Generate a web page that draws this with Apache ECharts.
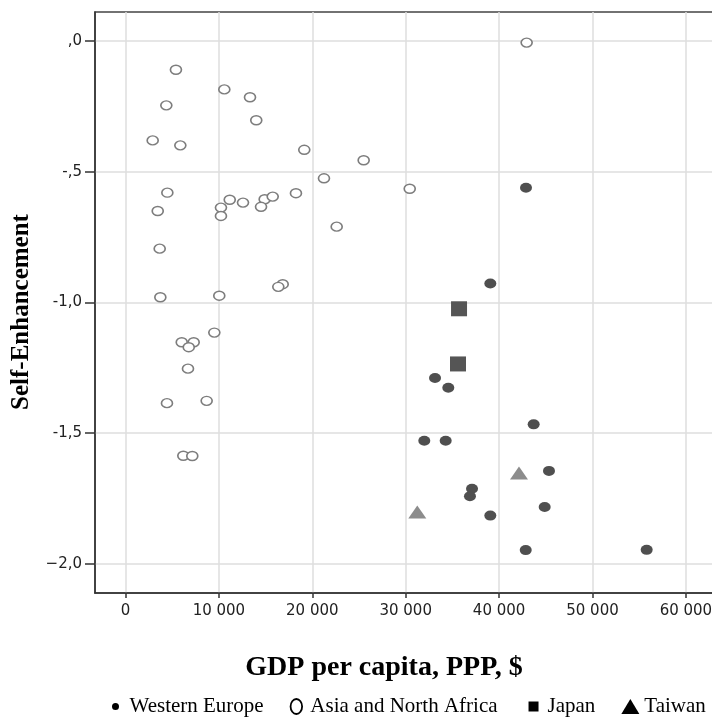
<!DOCTYPE html>
<html>
<head>
<meta charset="utf-8">
<script src="https://cdn.jsdelivr.net/npm/echarts@6/dist/echarts.min.js"></script>
<style>html,body{margin:0;padding:0;background:#fff;}#chart{width:712px;height:720px;}</style>
</head>
<body>
<div id="chart"></div>
<script>
// ---- Data (GDP per capita PPP $, Self-Enhancement) ----
var asiaNorthAfrica = [
  [42950, -0.006], [5400, -0.110], [10580, -0.185], [13330, -0.215], [4370, -0.246],
  [14000, -0.303], [2910, -0.380], [5870, -0.399], [19140, -0.416], [25500, -0.456],
  [21250, -0.525], [30430, -0.565], [4480, -0.580], [18250, -0.582], [3450, -0.650],
  [11160, -0.607], [12580, -0.618], [14900, -0.605], [15760, -0.595], [14510, -0.634],
  [10220, -0.637], [10220, -0.669], [22610, -0.710], [3660, -0.794], [16830, -0.930],
  [16360, -0.940], [3730, -0.980], [10040, -0.974], [9510, -1.115], [6020, -1.152],
  [7300, -1.152], [6770, -1.171], [6690, -1.253], [4440, -1.385], [8690, -1.376],
  [6190, -1.586], [7150, -1.587]
];
var westernEurope = [
  [42880, -0.561], [39060, -0.927], [33140, -1.289], [34560, -1.326], [43700, -1.466],
  [31990, -1.529], [34280, -1.529], [45340, -1.644], [37100, -1.712], [36880, -1.741],
  [44880, -1.782], [39060, -1.815], [42850, -1.947], [55800, -1.946]
];
var japan = [[35710, -1.024], [35600, -1.235]];
var taiwan = [[42130, -1.652], [31240, -1.801]];

var seriesNames = ['Western Europe', 'Asia and North Africa', 'Japan', 'Taiwan'];
var xTickValues = [0, 10000, 20000, 30000, 40000, 50000, 60000];
var xTickLabels = ['0', '10 000', '20 000', '30 000', '40 000', '50 000', '60 000'];
var yTickValues = [0, -0.5, -1, -1.5, -2];
var yTickLabels = [',0', '-,5', '-1,0', '-1,5', '\u22122,0'];
var xTitle = 'GDP per capita, PPP, $';
var yTitle = 'Self-Enhancement';

function lookup(vals, labels, v) {
  for (var i = 0; i < vals.length; i++) { if (Math.abs(vals[i] - v) < 1e-6) return labels[i]; }
  return '';
}

var chart = echarts.init(document.getElementById('chart'), null, {renderer: 'canvas'});
var labelFont = {color: '#222', fontFamily: 'DejaVu Sans', fontSize: 15};
var option = {
  animation: false,
  backgroundColor: '#fff',
  grid: {left: 95, top: 12, width: 630, height: 581, outerBoundsMode: 'none', containLabel: false,
         show: true, borderColor: '#444', borderWidth: 1.5, backgroundColor: 'transparent'},
  xAxis: {
    type: 'value', min: -3266, max: 64186,
    axisLine: {show: true, onZero: false, lineStyle: {color: '#333', width: 1.5}},
    axisTick: {show: true, length: 5, customValues: xTickValues, lineStyle: {color: '#333', width: 1.5}},
    axisLabel: Object.assign({customValues: xTickValues, margin: 11, formatter: function (v) { return lookup(xTickValues, xTickLabels, v); }}, labelFont),
    splitLine: {show: true, lineStyle: {color: '#dedede', width: 1.5}}
  },
  yAxis: {
    type: 'value', min: -2.111, max: 0.111,
    axisLine: {show: true, onZero: false, lineStyle: {color: '#333', width: 1.5}},
    axisTick: {show: true, length: 10, customValues: yTickValues, lineStyle: {color: '#333', width: 1.5}},
    axisLabel: Object.assign({customValues: yTickValues, margin: 13, formatter: function (v) { return lookup(yTickValues, yTickLabels, v); }}, labelFont),
    splitLine: {show: true, lineStyle: {color: '#dedede', width: 1.5}}
  },
  legend: {
    left: 99, top: 690, itemWidth: 18, itemHeight: 15, itemGap: 26,
    textStyle: {fontFamily: 'Liberation Serif', fontSize: 21, color: '#000'},
    selectedMode: false,
    data: [
      {name: seriesNames[0], icon: 'circle', itemStyle: {color: '#000', borderColor: '#fff', borderWidth: 8}},
      {name: seriesNames[1], icon: 'path://M5,0A5,6.5,0,1,1,5,13A5,6.5,0,1,1,5,0Z', itemStyle: {color: '#fff', borderColor: '#000', borderWidth: 1.8}},
      {name: seriesNames[2], icon: 'path://M0,0H10V10H0Z', itemStyle: {color: '#000', borderColor: '#fff', borderWidth: 5}},
      {name: seriesNames[3], icon: 'triangle', itemStyle: {color: '#000', borderWidth: 0}}
    ]
  },
  graphic: [
    {type: 'text', x: 384, y: 668, style: {text: xTitle, align: 'center', verticalAlign: 'middle', font: 'bold 28px "Liberation Serif"', fill: '#000'}, silent: true},
    {type: 'text', x: 22, y: 312, rotation: Math.PI / 2, style: {text: yTitle, align: 'center', verticalAlign: 'middle', font: 'bold 25px "Liberation Serif"', fill: '#000'}, silent: true}
  ],
  series: [
    {name: seriesNames[1], type: 'scatter', data: asiaNorthAfrica, symbol: 'circle', symbolSize: [11, 9], z: 2,
     itemStyle: {color: '#fff', borderColor: '#7d7d7d', borderWidth: 1.5, opacity: 1}},
    {name: seriesNames[0], type: 'scatter', data: westernEurope, symbol: 'circle', symbolSize: [12, 10], z: 3,
     itemStyle: {color: '#4f4f4f', opacity: 1}},
    {name: seriesNames[2], type: 'scatter', data: japan, symbol: 'rect', symbolSize: [16, 15], z: 3,
     itemStyle: {color: '#555555', opacity: 1}},
    {name: seriesNames[3], type: 'scatter', data: taiwan, symbol: 'triangle', symbolSize: [18, 13], z: 3,
     itemStyle: {color: '#8c8c8c', opacity: 1}}
  ]
};
chart.setOption(option);
</script>
</body>
</html>
